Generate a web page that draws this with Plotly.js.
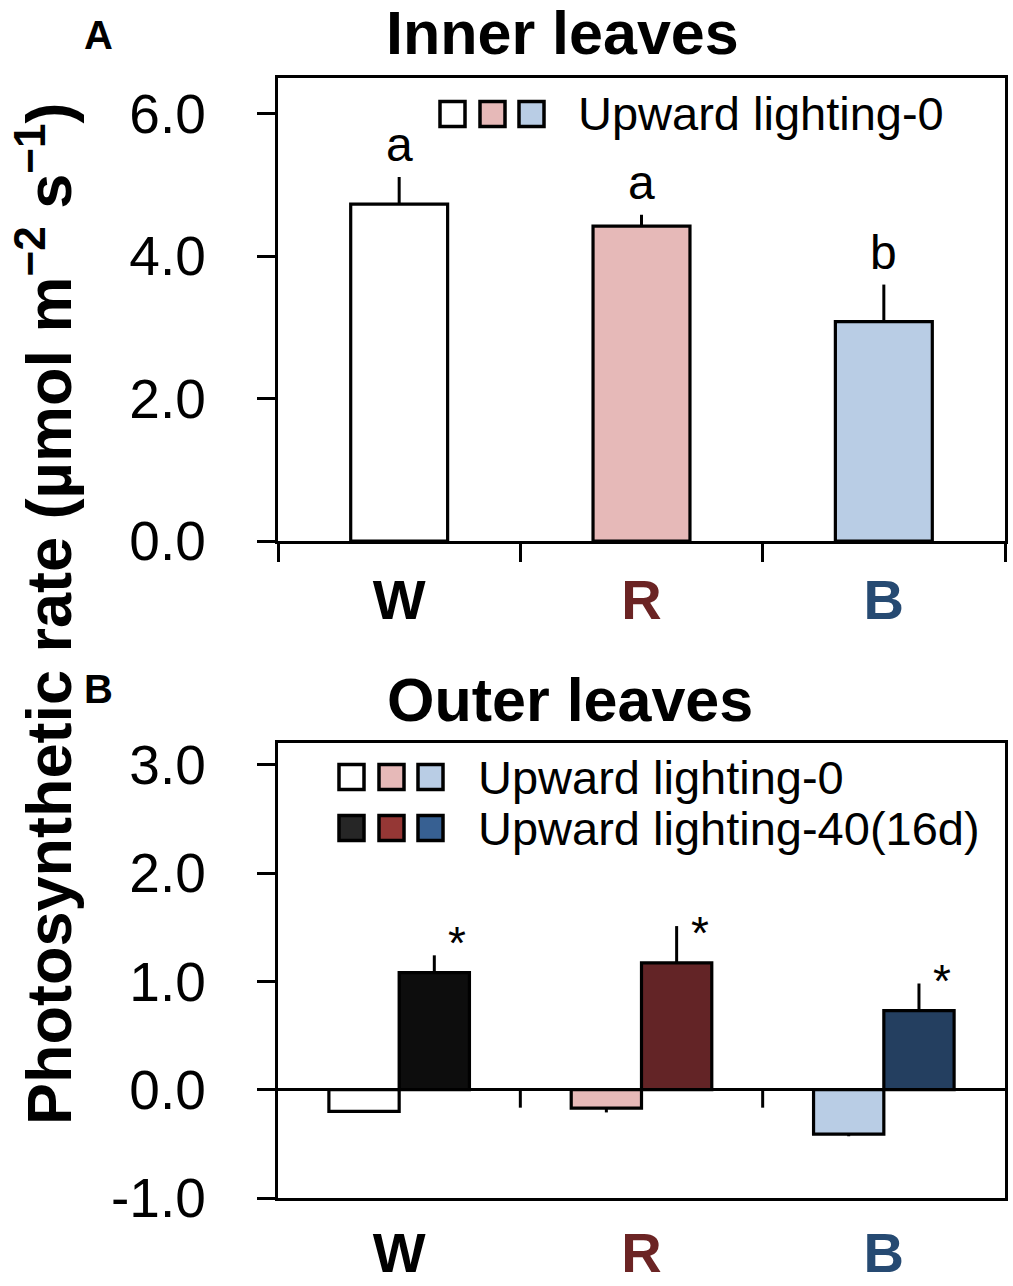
<!DOCTYPE html>
<html>
<head>
<meta charset="utf-8">
<script src="https://cdn.plot.ly/plotly-3.0.1.min.js"></script>
<style>html,body{margin:0;padding:0;background:#fff}#chart{width:1013px;height:1286px}</style>
</head>
<body>
<div id="chart"></div>
<script>
// ---------- data ----------
var categories = ['W', 'R', 'B'];
var categoryColors = ['#000000', '#6b2424', '#264a72'];

// Panel A: inner leaves (Upward lighting-0)
var innerValues = [4.73, 4.42, 3.08];
var innerErrors = [0.38, 0.16, 0.52];
var innerLetters = ['a', 'a', 'b'];
var innerColors = ['#ffffff', '#e6b9b8', '#b9cde5'];

// Panel B: outer leaves
var outerLight = [-0.20, -0.17, -0.41];      // Upward lighting-0
var outerLightErr = [0.00, 0.04, 0.02];
var outerDark = [1.08, 1.17, 0.73];          // Upward lighting-40(16d)
var outerDarkErr = [0.16, 0.34, 0.25];
var outerMarks = ['*', '*', '*'];
var lightColors = ['#ffffff', '#e6b9b8', '#b9cde5'];
var darkColors = ['#0d0d0d', '#632426', '#243f60'];
var legendDarkSwatch = ['#262626', '#953735', '#376092'];

var legendLabel0 = 'Upward lighting-0';
var legendLabel40 = 'Upward lighting-40(16d)';

var yTicksA = [0, 2, 4, 6];
var yTickTextA = ['0.0', '2.0', '4.0', '6.0'];
var yTicksB = [-1, 0, 1, 2, 3];
var yTickTextB = ['-1.0', '0.0', '1.0', '2.0', '3.0'];

// ---------- layout helpers ----------
var W = 1013, H = 1286;
function px(x) { return x / W; }
function py(y) { return 1 - y / H; }
var FONT = 'Liberation Sans, Arial, Helvetica, sans-serif';

var catText = categories.map(function (c, i) {
  return '<b><span style="color:' + categoryColors[i] + '">' + c + '</span></b>';
});
function zeros(n) { var a = []; for (var i = 0; i < n; i++) a.push(0); return a; }

var traces = [
  {
    type: 'bar', x: categories, y: innerValues, xaxis: 'x', yaxis: 'y',
    width: 0.4, showlegend: false, hoverinfo: 'x+y',
    marker: { color: innerColors, line: { color: '#000', width: 3.2 } },
    error_y: { type: 'data', symmetric: false, array: innerErrors, arrayminus: zeros(3),
               width: 0, thickness: 3, color: '#000' }
  },
  {
    type: 'bar', x: categories, y: outerLight, xaxis: 'x2', yaxis: 'y2',
    name: legendLabel0, showlegend: false,
    marker: { color: lightColors, line: { color: '#000', width: 3.2 } },
    error_y: { type: 'data', symmetric: false, array: zeros(3), arrayminus: outerLightErr,
               width: 0, thickness: 3, color: '#000' }
  },
  {
    type: 'bar', x: categories, y: outerDark, xaxis: 'x2', yaxis: 'y2',
    name: legendLabel40, showlegend: false,
    marker: { color: darkColors, line: { color: '#000', width: 3.2 } },
    error_y: { type: 'data', symmetric: false, array: outerDarkErr, arrayminus: zeros(3),
               width: 0, thickness: 3, color: '#000' }
  }
];

var annotations = [];
var shapes = [];

function paperText(x, y, text, size, extra) {
  var a = { xref: 'paper', yref: 'paper', x: px(x), y: py(y), text: text, showarrow: false,
            xanchor: 'center', yanchor: 'middle', font: { family: FONT, size: size, color: '#000' } };
  if (extra) for (var k in extra) a[k] = extra[k];
  annotations.push(a);
}

// letters in A, asterisks in B
categories.forEach(function (c, i) {
  annotations.push({
    xref: 'x', yref: 'y', x: c, y: innerValues[i] + innerErrors[i],
    text: innerLetters[i], showarrow: false, xanchor: 'center', yanchor: 'bottom', yshift: 4,
    font: { family: FONT, size: 48, color: '#000' }
  });
  annotations.push({
    xref: 'x2', yref: 'y2', x: c, y: outerDark[i],
    text: outerMarks[i], showarrow: false, xanchor: 'center', yanchor: 'bottom', xshift: 58, yshift: 2,
    font: { family: FONT, size: 46, color: '#000' }
  });
});

// titles, panel letters, y title
paperText(562, 33, '<b>Inner leaves</b>', 61);
paperText(570, 700, '<b>Outer leaves</b>', 61);
paperText(98, 35, '<b>A</b>', 40);
paperText(98, 689, '<b>B</b>', 40);
paperText(44, 614, '<b>Photosynthetic rate (µmol m<sup>−2</sup> s<sup>−1</sup>)</b>', 63, { textangle: -90 });

// manual legends
function swatch(xl, yc, color) {
  shapes.push({ type: 'rect', xref: 'paper', yref: 'paper',
    x0: px(xl), x1: px(xl + 25), y0: py(yc + 12.5), y1: py(yc - 12.5),
    fillcolor: color, line: { color: '#000', width: 3.5 } });
}
[440, 480, 519].forEach(function (x, i) { swatch(x, 114, innerColors[i]); });
paperText(576, 114, legendLabel0, 47, { xanchor: 'left' });

[339, 379, 418].forEach(function (x, i) { swatch(x, 777, lightColors[i]); });
[339, 379, 418].forEach(function (x, i) { swatch(x, 828, legendDarkSwatch[i]); });
paperText(476, 777, legendLabel0, 47, { xanchor: 'left' });
paperText(476, 828, legendLabel40, 47, { xanchor: 'left' });

// category boundary ticks on zero line of panel B
for (var k = 1; k < categories.length; k++) {
  shapes.push({ type: 'line', xref: 'x2', yref: 'y2', x0: k - 0.5, x1: k - 0.5,
    ysizemode: 'pixel', yanchor: 0, y0: 0, y1: -18,
    line: { color: '#000', width: 3 } });
}

var axisFont = { family: FONT, size: 55, color: '#000' };
var layout = {
  width: W, height: H,
  margin: { l: 0, r: 0, t: 0, b: 0 },
  paper_bgcolor: '#fff', plot_bgcolor: '#fff',
  barmode: 'group', bargap: 0.42, bargroupgap: 0,
  showlegend: false,
  xaxis: {
    domain: [px(278), px(1005)], anchor: 'y', type: 'category',
    tickmode: 'array', tickvals: categories, ticktext: catText,
    tickson: 'boundaries', ticks: 'outside', ticklen: 18, tickwidth: 3, tickcolor: '#000',
    showline: true, linewidth: 3.2, linecolor: '#000', mirror: true, showgrid: false,
    tickfont: { family: FONT, size: 56 }, ticklabelstandoff: 8
  },
  yaxis: {
    domain: [py(541), py(78)], anchor: 'x', range: [0, 6.5],
    tickmode: 'array', tickvals: yTicksA, ticktext: yTickTextA,
    ticks: 'outside', ticklen: 18, tickwidth: 3, tickcolor: '#000',
    showline: true, linewidth: 3.2, linecolor: '#000', mirror: true,
    showgrid: false, zeroline: false, tickfont: axisFont, ticklabelstandoff: 40
  },
  xaxis2: {
    domain: [px(278), px(1005)], anchor: 'y2', type: 'category',
    tickmode: 'array', tickvals: categories, ticktext: catText,
    ticks: '', showline: true, linewidth: 3.2, linecolor: '#000', mirror: true, showgrid: false,
    tickfont: { family: FONT, size: 56 }, ticklabelstandoff: 4
  },
  yaxis2: {
    domain: [py(1198), py(743)], anchor: 'x2', range: [-1, 3.2],
    tickmode: 'array', tickvals: yTicksB, ticktext: yTickTextB,
    ticks: 'outside', ticklen: 18, tickwidth: 3, tickcolor: '#000',
    showline: true, linewidth: 3.2, linecolor: '#000', mirror: true,
    showgrid: false, zeroline: true, zerolinecolor: '#000', zerolinewidth: 3,
    tickfont: axisFont, ticklabelstandoff: 40
  },
  annotations: annotations,
  shapes: shapes
};

Plotly.newPlot('chart', traces, layout, { displayModeBar: false, staticPlot: true });
</script>
</body>
</html>
